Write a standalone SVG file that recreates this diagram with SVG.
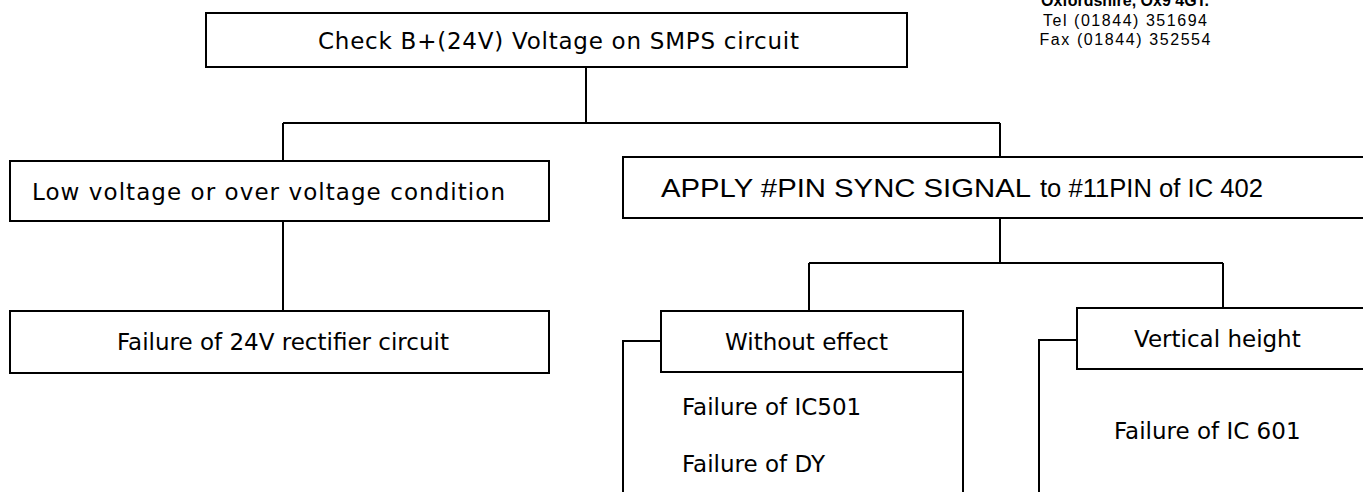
<svg xmlns="http://www.w3.org/2000/svg" width="1363" height="492" viewBox="0 0 1363 492">
<style>
.box{fill:#fff;stroke:#000;stroke-width:2}
.ln{fill:none;stroke:#000;stroke-width:2}
.t{font-family:"DejaVu Sans","Liberation Sans",sans-serif;font-size:23px;fill:#000}
.a{font-family:"Liberation Sans","DejaVu Sans",sans-serif;font-size:26px;fill:#000}
.h{font-family:"Liberation Sans","DejaVu Sans",sans-serif;font-size:16px;fill:#000;text-anchor:middle}
</style>
<rect width="1363" height="492" fill="#fff"/>
<g id="header">
<text class="h" x="1125" y="6" font-weight="bold">Oxfordshire, Ox9 4GT.</text>
<text class="h" x="1125" y="26" textLength="164" lengthAdjust="spacing">Tel (01844) 351694</text>
<text class="h" x="1125" y="45" textLength="171" lengthAdjust="spacing">Fax (01844) 352554</text>
</g>
<g id="connectors">
<path class="ln" d="M586 67V123M283 123H1000M283 123V161M1000 123V157M283 221V311M1000 218V263M809 263H1223M809 263V311M1223 263V308"/>
</g>
<g id="n-check">
<rect class="box" x="206" y="13" width="701" height="54"/>
<text class="t" x="318" y="49" textLength="481" lengthAdjust="spacing">Check B+(24V) Voltage on SMPS circuit</text>
</g>
<g id="n-low">
<rect class="box" x="10" y="161" width="539" height="60"/>
<text class="t" x="32" y="200" textLength="473" lengthAdjust="spacing">Low voltage or over voltage condition</text>
</g>
<g id="n-rect">
<rect class="box" x="10" y="311" width="539" height="62"/>
<text class="t" x="117" y="350">Failure of 24V rectifier circuit</text>
</g>
<g id="n-apply">
<rect class="box" x="623" y="157" width="780" height="61"/>
<text class="a" y="197"><tspan x="661" textLength="370" lengthAdjust="spacingAndGlyphs">APPLY #PIN SYNC SIGNAL</tspan><tspan x="1040" textLength="223" lengthAdjust="spacingAndGlyphs">to #11PIN of IC 402</tspan></text>
</g>
<g id="n-without">
<rect class="box" x="661" y="311" width="302" height="61"/>
<path class="ln" d="M661 341H623V493M963 372V493"/>
<text class="t" x="725" y="350">Without effect</text>
<text class="t" x="682" y="415">Failure of IC501</text>
<text class="t" x="682" y="472">Failure of DY</text>
</g>
<g id="n-vertical">
<rect class="box" x="1077" y="308" width="320" height="61"/>
<path class="ln" d="M1077 340H1039V493"/>
<text class="t" x="1134" y="347">Vertical height</text>
<text class="t" x="1114" y="439">Failure of IC 601</text>
</g>
</svg>
